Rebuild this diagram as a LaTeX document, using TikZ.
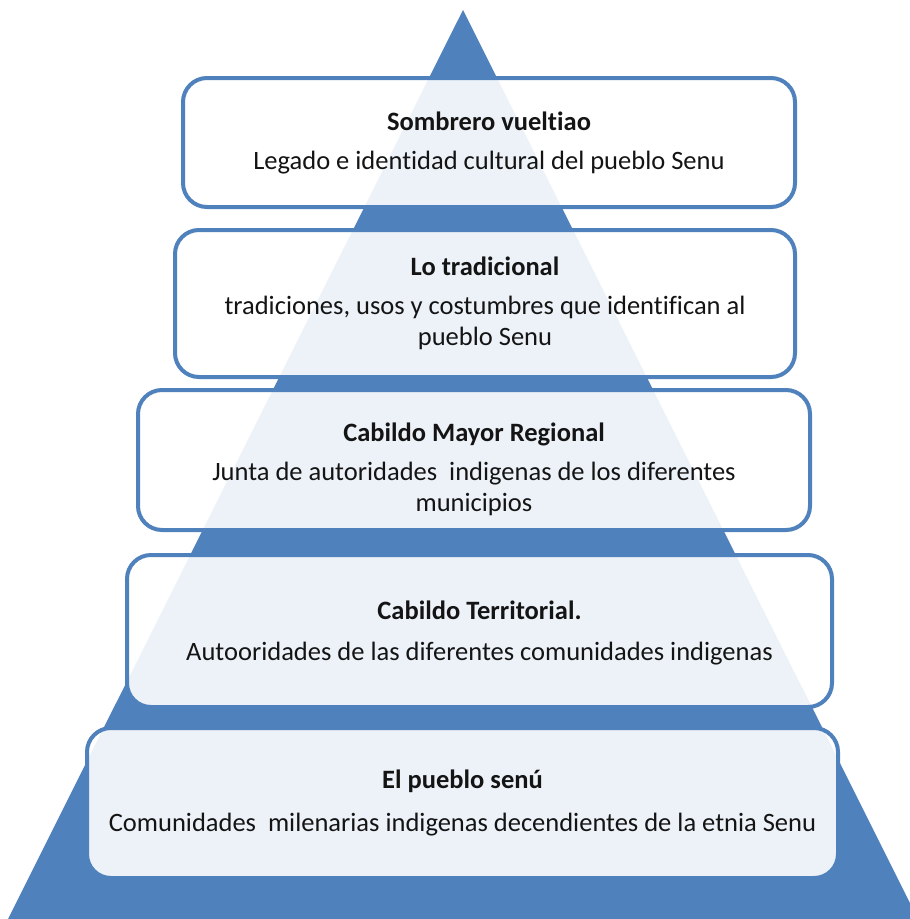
\documentclass[tikz,border=0pt]{standalone}
\usepackage{fontspec}
\setmainfont{Carlito}[Ligatures=NoCommon]
\usepackage{tikz}
\usetikzlibrary{positioning}
\definecolor{pyramid}{HTML}{4F81BD}
\definecolor{tierline}{HTML}{4F81BD}
\definecolor{tiertext}{HTML}{141414}
\tikzset{
  tier/.style={rounded corners=24pt, draw=tierline, line width=4pt,
              fill=white, fill opacity=0.9, draw opacity=1, text opacity=1,
              align=center, text=tiertext, inner sep=0pt,
              font=\fontsize{26.5}{31}\selectfont},
}

\begin{document}
\begin{tikzpicture}[x=1pt, y=-1pt]
\useasboundingbox (0,0) rectangle (910,919);
% the pyramid behind the tiers
\fill[pyramid] (463,10) -- (918,919) -- (8,919) -- cycle;

\node[tier, minimum width=612pt, minimum height=129pt] (hat) at (489,142.5)
  {\textbf{Sombrero vueltiao}\\[8pt]
   Legado e identidad cultural del pueblo Senu};
\node[tier, minimum width=620pt, minimum height=147pt] (trad) at (485,303.5)
  {\textbf{Lo tradicional}\\[8pt]
   tradiciones, usos y costumbres que identifican al\\ pueblo Senu};
\node[tier, minimum width=672pt, minimum height=140pt] (mayor) at (474,460)
  {\rule{0pt}{37pt}\textbf{Cabildo Mayor Regional}\\[8pt]
   Junta de autoridades\ \ indigenas de los diferentes\\ municipios};
\node[tier, minimum width=705pt, minimum height=152pt] (terr) at (479.5,631)
  {\rule{0pt}{23pt}\textbf{Cabildo Territorial.}\\[10pt]
   Autooridades de las diferentes comunidades indigenas};
\node[tier, minimum width=751pt, minimum height=150pt] (senu) at (462.5,803)
  {\textbf{El pueblo senú}\\[12pt]
   Comunidades\ \ milenarias indigenas decendientes de la etnia Senu};
\end{tikzpicture}
\end{document}
